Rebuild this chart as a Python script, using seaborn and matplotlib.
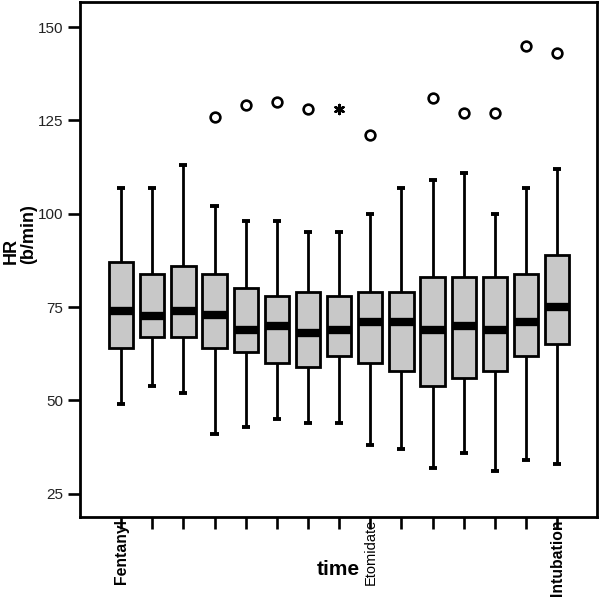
import numpy as np
import pandas as pd
import matplotlib
matplotlib.use("Agg")
import matplotlib.pyplot as plt
import seaborn as sns

# heart rate per time point (b/min)
time_keys = [f"t{i}" for i in range(1, 16)]
tick_labels = ["Fentanyl", "", "", "", "", "", "", "", "Etomidate",
               "", "", "", "", "", "Intubation"]
whisker_low = [49, 54, 52, 41, 43, 45, 44, 44, 38, 37, 32, 36, 31, 34, 33]
q1 = [64, 67, 67, 64, 63, 60, 59, 62, 60, 58, 54, 56, 58, 62, 65]
median = [74, 72.5, 74, 73, 69, 70, 68, 69, 71, 71, 69, 70, 69, 71, 75]
q3 = [87, 84, 86, 84, 80, 78, 79, 78, 79, 79, 83, 83, 83, 84, 89]
whisker_high = [107, 107, 113, 102, 98, 98, 95, 95, 100, 107, 109, 111, 100, 107, 112]

outlier_time = ["t4", "t5", "t6", "t7", "t9", "t11", "t12", "t13", "t14", "t15"]
outlier_hr = [126, 129, 130, 128, 121, 131, 127, 127, 145, 143]
extreme_time = ["t8"]
extreme_hr = [128]

# long-form table for seaborn: each group rebuilt so its quartiles and
# whisker ends land on the values above
rows = []
for i, k in enumerate(time_keys):
    vals = [whisker_low[i]] + [q1[i]] * 10 + [median[i]] * 10 + [q3[i]] * 10 + [whisker_high[i]]
    vals += [v for t, v in zip(outlier_time + extreme_time, outlier_hr + extreme_hr) if t == k]
    rows += [(k, v) for v in vals]
df = pd.DataFrame(rows, columns=["time", "HR"])

plt.rcParams["font.family"] = ["Liberation Sans", "DejaVu Sans"]

fig = plt.figure(figsize=(6, 5.98), dpi=100)
ax = fig.add_axes([80 / 600, 81 / 598, 517 / 600, 515 / 598])

lw = 2.0
sns.boxplot(data=df, x="time", y="HR", order=time_keys, ax=ax,
            color="#c8c8c8", saturation=1, width=0.78, linecolor="black",
            linewidth=lw, showfliers=False, whis=1.5,
            medianprops=dict(linewidth=6, color="black", solid_capstyle="butt"),
            capprops=dict(linewidth=2.8, solid_capstyle="butt"),
            capwidths=0.26)

sns.stripplot(x=outlier_time, y=outlier_hr, order=time_keys, ax=ax,
              jitter=False, marker="o", color="white", edgecolor="black",
              linewidth=1.9, size=7)
sns.stripplot(x=extreme_time, y=extreme_hr, order=time_keys, ax=ax,
              jitter=False, marker=(6, 2, 0), color="black", edgecolor="black",
              linewidth=1.8, size=6.5)

ax.set_xlim(-1.32, 15.28)
ax.set_ylim(18.8, 156.7)
ax.set_yticks([25, 50, 75, 100, 125, 150])
ax.set_xticks(range(len(time_keys)))
ax.set_xticklabels(tick_labels, rotation=90, va="top", ha="center")
for lab in ax.get_xticklabels():
    if lab.get_text() == "Etomidate":
        lab.set_fontsize(10.5)
    else:
        lab.set_fontsize(11.3)
        lab.set_fontweight("bold")

for sp in ax.spines.values():
    sp.set_linewidth(2.0)
    sp.set_color("black")
ax.tick_params(axis="both", length=8.5, width=1.9, color="black")
ax.tick_params(axis="x", pad=-7)
ax.tick_params(axis="y", labelsize=11, labelcolor="#222222", pad=3.5)

ax.set_xlabel("time", fontsize=15, fontweight="bold")
ax.xaxis.set_label_coords(0.5, -0.083)
ax.set_ylabel("HR\n(b/min)", fontsize=13, fontweight="bold",
              multialignment="left", linespacing=1.0)
ax.yaxis.set_label_coords(-0.083, 0.55)

fig.savefig("out.png", dpi=100)
